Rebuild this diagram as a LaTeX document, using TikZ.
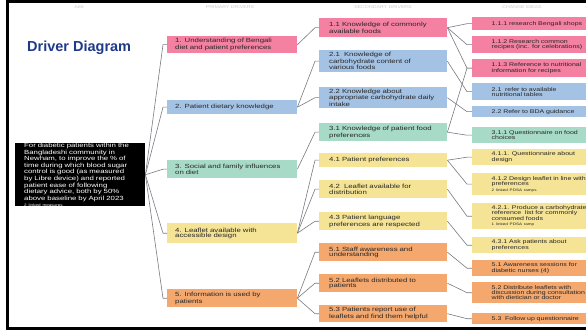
\documentclass[tikz,border=0pt]{standalone}
\usepackage{fontspec}
\setmainfont{Liberation Sans}
\newfontfamily\boxfont[FakeStretch=1.3]{Liberation Sans}
\usepackage{tikz}
\usetikzlibrary{positioning}
\definecolor{driverpink}{RGB}{244,128,162}
\definecolor{driverblue}{RGB}{164,194,228}
\definecolor{drivergreen}{RGB}{168,218,200}
\definecolor{driveryellow}{RGB}{246,228,150}
\definecolor{driverorange}{RGB}{244,168,110}
\definecolor{titlenavy}{RGB}{30,58,138}
\definecolor{linkgray}{RGB}{120,122,130}
\definecolor{headgray}{RGB}{200,200,204}
\tikzset{
  box/.style={rectangle, anchor=north west, inner ysep=0pt, align=left,
    text=black!85, font=\boxfont\fontsize{6}{5.4}\selectfont},
  primary/.style={box, minimum width=130pt, text width=114pt, inner xsep=8pt},
  secondary/.style={box, minimum width=128pt, text width=108pt, inner xsep=10pt},
  change/.style={box, minimum width=140pt, text width=101pt, inner xsep=11pt,
    font=\boxfont\fontsize{5.4}{5.2}\selectfont},
  aimbox/.style={box, fill=black, text=white, minimum width=130pt,
    text width=112pt, inner xsep=9pt},
  header/.style={text=headgray, font=\boxfont\fontsize{4}{4}\selectfont},
  link/.style={draw=linkgray, line width=0.6pt}
}
\newcommand{\linked}[1]{\\[0.6pt]{\fontsize{3.5}{4}\selectfont #1}}

\begin{document}
\begin{tikzpicture}[x=1pt, y=-1pt]
\useasboundingbox (0,0) rectangle (586,331);
\clip (0,0) rectangle (586,331);

% column heads
\node (hAim) [header] at (79,7)  {AIM};
\node (hPri) [header] at (230,7) {PRIMARY DRIVERS};
\node (hSec) [header] at (383,7) {SECONDARY DRIVERS};
\node (hChg) [header] at (522,7) {CHANGE IDEAS};

\node (title) [anchor=west, text=titlenavy, inner sep=0pt,
  font=\fontsize{14.5}{16}\selectfont\bfseries] at (27,48) {Driver Diagram};

% aim
\node (aim) [aimbox, minimum height=56pt] at (15,143)
  {For diabetic patients within the\\ Bangladeshi community in\\
   Newham, to improve the \% of\\ time during which blood sugar\\
   control is good (as measured\\ by Libre device) and reported\\
   patient ease of following\\ dietary advice, both by 50\%\\
   above baseline by April 2023\linked{2 linked measures}};

% primary drivers
\node (pri1) [primary, fill=driverpink, minimum height=17pt] at (167,36)
  {1. Understanding of Bengali\\ diet and patient preferences};
\node (pri2) [primary, fill=driverblue, minimum height=14pt] at (167,100)
  {2. Patient dietary knowledge};
\node (pri3) [primary, fill=drivergreen, minimum height=18pt] at (167,160)
  {3. Social and family influences\\ on diet};
\node (pri4) [primary, fill=driveryellow, minimum height=20pt] at (167,223)
  {4. Leaflet available with\\ accessible design};
\node (pri5) [primary, fill=driverorange, minimum height=18pt] at (167,289)
  {5. Information is used by\\ patients};

% secondary drivers
\node (sec11) [secondary, fill=driverpink, minimum height=19pt] at (319,18)
  {1.1 Knowledge of commonly\\ available foods};
\node (sec21) [secondary, fill=driverblue, minimum height=22pt] at (319,50)
  {2.1\ \ Knowledge of\\ carbohydrate content of\\ various foods};
\node (sec22) [secondary, fill=driverblue, minimum height=21pt] at (319,87)
  {2.2 Knowledge about\\ appropriate carbohydrate daily\\ intake};
\node (sec31) [secondary, fill=drivergreen, minimum height=18pt] at (319,123)
  {3.1 Knowledge of patient food\\ preferences};
\node (sec41) [secondary, fill=driveryellow, minimum height=14pt] at (319,153)
  {4.1 Patient preferences};
\node (sec42) [secondary, fill=driveryellow, minimum height=18pt] at (319,180)
  {4.2\ \ Leaflet available for\\ distribution};
\node (sec43) [secondary, fill=driveryellow, minimum height=18pt] at (319,212)
  {4.3 Patient language\\ preferences are respected};
\node (sec51) [secondary, fill=driverorange, minimum height=18pt] at (319,243)
  {5.1 Staff awareness and\\ understanding};
\node (sec52) [secondary, fill=driverorange, minimum height=18pt] at (319,274)
  {5.2 Leaflets distributed to\\ patients};
\node (sec53) [secondary, fill=driverorange, minimum height=17pt] at (319,305)
  {5.3 Patients report use of\\ leaflets and find them helpful};

% change ideas
\node (chg111) [change, fill=driverpink, minimum height=13pt] at (472,17)
  {1.1.1 research Bengali shops};
\node (chg112) [change, fill=driverpink, minimum height=17pt] at (472,36)
  {1.1.2 Research common\\ recipes (inc. for celebrations)};
\node (chg113) [change, fill=driverpink, minimum height=18pt] at (472,59)
  {1.1.3 Reference to nutritional\\ information for recipes};
\node (chg21) [change, fill=driverblue, minimum height=17pt] at (472,83)
  {2.1\ \ refer to available\\ nutritional tables};
\node (chg22) [change, fill=driverblue, minimum height=11pt] at (472,106)
  {2.2 Refer to BDA guidance};
\node (chg311) [change, fill=drivergreen, minimum height=16pt] at (472,127)
  {3.1.1 Questionnaire on food\\ choices};
\node (chg411) [change, fill=driveryellow, minimum height=16pt] at (472,149)
  {4.1.1. Questionnaire about\\ design};
\node (chg412) [change, fill=driveryellow, minimum height=22pt] at (472,173)
  {4.1.2 Design leaflet in line with\\ preferences\linked{2 linked PDSA ramps}};
\node (chg421) [change, fill=driveryellow, minimum height=26pt] at (472,203)
  {4.2.1. Produce a carbohydrate\\ reference\ \ list for commonly\\
   consumed foods\linked{1 linked PDSA ramp}};
\node (chg431) [change, fill=driveryellow, minimum height=16pt] at (472,237)
  {4.3.1 Ask patients about\\ preferences};
\node (chg51) [change, fill=driverorange, minimum height=16pt] at (472,260)
  {5.1 Awareness sessions for\\ diabetic nurses (4)};
\node (chg52) [change, fill=driverorange, minimum height=21pt] at (472,282)
  {5.2 Distribute leaflets with\\ discussion during consultation\\ with dietician or doctor};
\node (chg53) [change, fill=driverorange, minimum height=11pt] at (472,313)
  {5.3\ \ Follow up questionnaire};

% connectors
\foreach \p in {pri1,pri2,pri3,pri4,pri5}
  \draw[link] (aim.east) -- ([xshift=-4pt]\p.west) -- (\p.west);
\foreach \a/\b in {pri1/sec11, pri2/sec21, pri2/sec22, pri3/sec31,
    pri4/sec41, pri4/sec42, pri4/sec43, pri5/sec51, pri5/sec52, pri5/sec53}
  \draw[link] (\a.east) -- ([xshift=-4pt]\b.west) -- (\b.west);
\foreach \a/\b in {sec11/chg111, sec11/chg112, sec11/chg113, sec21/chg21,
    sec22/chg22, sec31/chg311, sec31/chg113, sec41/chg411, sec41/chg412,
    sec42/chg421, sec43/chg431, sec51/chg51, sec52/chg52, sec53/chg53}
  \draw[link] (\a.east) -- ([xshift=-5pt]\b.west) -- (\b.west);

% frame
\draw[line width=3pt] (7.5,1.5) rectangle (600,328.5);
\end{tikzpicture}
\end{document}
